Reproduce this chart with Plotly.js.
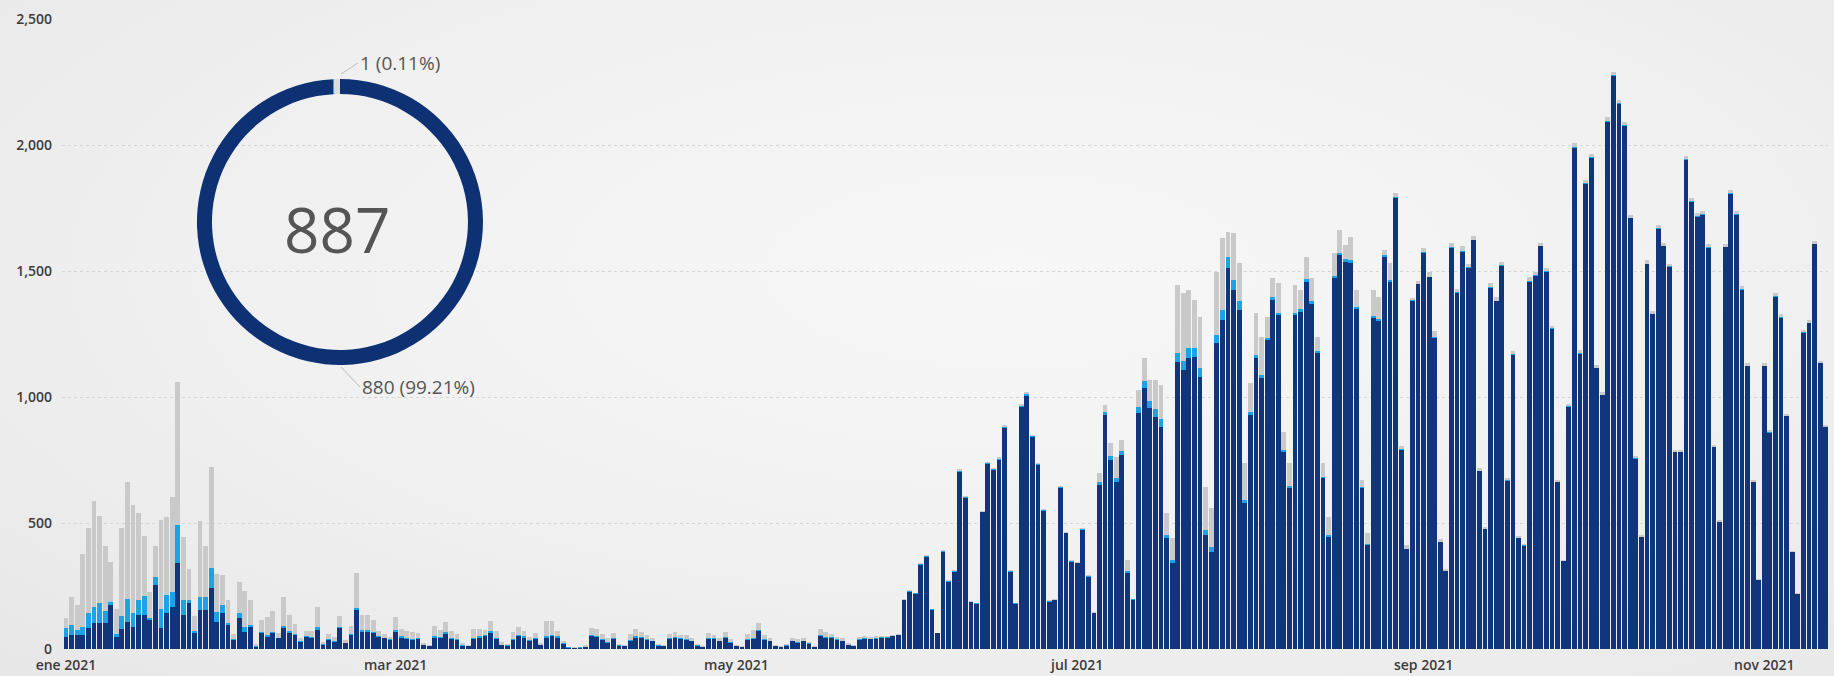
<!DOCTYPE html>
<html>
<head>
<meta charset="utf-8">
<script src="https://cdn.plot.ly/plotly-3.0.1.min.js"></script>
<style>
  html, body { margin: 0; padding: 0; }
  #chart { width: 1834px; height: 676px;
    background: radial-gradient(ellipse at 55% 40%, #f7f7f7 0%, #f0f0f0 55%, #e7e7e7 100%); }
</style>
</head>
<body>
<div id="chart"></div>
<script>
// ---- data (one value per day, starting 2021-01-01) ----
const startDate = '2021-01-01';

// dark navy series
const navy = [
  // ene
  49,56,55,56,82,102,102,102,175,49,80,108,88,135,135,115,254,82,141,168,340,135,181,62,155,155,241,108,141,95,36,
  // feb
  122,69,89,9,62,49,62,42,82,62,56,29,49,42,75,16,36,29,82,22,56,155,69,69,62,49,42,36,
  // mar
  69,45,40,35,40,15,10,45,42,60,40,35,12,10,40,45,50,65,40,15,12,35,50,45,30,40,15,45,50,45,20,
  // abr
  5,3,5,8,50,48,35,25,40,12,10,30,45,42,35,30,12,10,40,42,38,35,30,12,8,40,38,30,42,25,
  // may
  10,8,35,40,70,35,30,10,8,12,30,25,30,20,8,50,45,42,35,30,15,10,35,40,38,40,45,45,50,55,194,
  // jun
  228,218,333,366,155,62,386,267,307,704,598,185,179,542,734,710,750,876,307,179,959,1005,840,730,549,188,194,638,459,347,
  // jul
  340,472,287,142,651,929,750,664,770,300,194,935,1034,955,922,882,439,340,1140,1107,1153,1160,1081,452,386,1213,1306,1511,1425,1345,578,
  // ago
  929,1153,1074,1226,1385,1325,783,638,1325,1339,1458,1369,1173,677,446,1471,1563,1537,1533,1348,638,413,1312,1303,1557,1458,1788,790,395,1380,1447,
  // sep
  1572,1475,1236,423,308,1592,1414,1575,1511,1622,706,477,1433,1379,1521,667,1167,441,410,1457,1480,1598,1498,1270,662,348,961,1988,1171,1845,
  // oct
  1949,1115,1007,2093,2272,2162,2077,1709,754,445,1526,1328,1668,1598,1516,780,780,1940,1773,1714,1722,1591,801,503,1594,1807,1722,1426,1123,662,272,
  // nov
  1123,858,1398,1313,924,383,219,1254,1293,1606,1133,880
];

// light blue series
const lightBlue = [
  33,39,20,30,60,66,80,50,10,10,50,90,55,60,75,10,33,75,73,60,152,60,15,10,53,53,79,40,34,10,5,
  19,20,7,2,5,8,7,3,10,8,5,3,4,4,13,2,3,3,5,2,4,7,7,5,5,4,3,3,
  7,5,5,4,4,2,2,5,5,8,5,4,2,2,5,5,6,6,5,2,2,4,6,5,4,4,2,5,6,5,2,
  1,1,1,1,5,5,4,3,4,2,1,4,5,4,4,3,2,1,4,4,4,4,3,2,1,5,4,3,5,3,
  1,1,4,4,5,4,3,1,1,2,3,3,3,2,1,4,4,4,3,3,2,1,3,3,3,3,3,2,2,2,2,
  3,3,3,3,2,1,3,2,3,4,4,2,2,3,4,4,4,5,2,2,5,5,4,4,3,2,2,3,3,2,
  3,4,3,2,10,12,15,15,15,8,3,25,30,30,30,30,15,12,35,35,40,35,35,20,18,35,40,45,40,35,15,
  10,12,12,10,10,10,8,8,10,10,10,10,8,6,6,10,10,10,10,8,5,5,8,8,5,5,5,3,3,3,3,
  3,3,2,2,1,3,2,3,3,3,2,1,3,3,3,2,2,1,1,3,3,3,3,2,2,1,2,4,3,3,
  3,2,2,4,4,3,3,3,2,1,3,3,3,3,3,2,2,3,3,3,3,3,2,1,3,3,3,3,2,2,1,
  2,2,3,3,2,1,1,2,2,3,2,1
];

// light gray series
const gray = [
  40,113,100,290,340,420,345,255,160,100,350,465,430,345,240,100,120,355,310,375,569,250,120,60,300,200,404,150,120,90,20,
  126,140,100,10,50,70,80,20,116,65,40,10,20,25,80,8,20,15,45,10,30,138,60,60,50,20,15,10,
  50,30,25,30,20,8,5,40,30,40,25,20,10,5,35,30,20,40,25,10,5,30,30,20,15,20,8,60,55,20,10,
  3,2,3,5,30,25,20,15,20,5,5,25,30,20,15,10,5,5,15,20,15,15,10,5,3,20,15,12,20,10,
  5,3,20,30,30,15,10,5,3,5,10,10,10,5,3,25,20,15,10,10,5,3,10,10,8,8,5,5,5,4,4,
  3,3,4,4,2,1,4,3,4,6,5,2,2,4,6,6,6,7,3,2,8,9,7,6,5,3,3,5,4,4,
  4,4,3,2,36,27,51,84,44,45,3,68,89,82,115,136,84,87,269,269,232,190,203,172,154,249,284,100,184,150,144,
  115,167,153,83,76,116,71,91,109,76,89,92,58,54,73,89,90,56,93,69,28,41,105,87,21,67,15,12,15,10,12,
  15,20,25,10,8,18,12,20,15,12,10,8,15,15,12,10,12,6,6,15,15,12,12,10,8,6,10,15,12,12,
  12,10,10,15,15,12,12,10,8,6,15,12,12,12,10,8,8,15,12,12,12,12,8,6,12,12,12,10,10,8,5,
  10,8,12,12,8,5,4,10,10,12,8,6
];

// donut (latest day breakdown)
const donutLabels = ['navy', 'lightBlue', 'gray'];
const donutValues = [880, 1, 6];
const donutTotal = 887;

// axis ticks
const xTickVals = ['2021-01-01','2021-03-01','2021-05-01','2021-07-01','2021-09-01','2021-11-01'];
const xTickText = ['ene 2021','mar 2021','may 2021','jul 2021','sep 2021','nov 2021'];
const yTickVals = [0, 500, 1000, 1500, 2000, 2500];

// ---- build ----
const C_NAVY = '#11357a', C_BLUE = '#1ea2e6', C_GRAY = '#c9c9c9';
const dates = navy.map((_, i) => {
  const d = new Date(startDate + 'T00:00:00Z');
  d.setUTCDate(d.getUTCDate() + i);
  return d.toISOString().slice(0, 10);
});

const bar = (y, color) => ({
  type: 'bar', x: dates, y: y, marker: { color: color, line: { width: 0 } },
  hoverinfo: 'x+y', showlegend: false
});

const pctText = v => v + ' (' + (100 * v / donutTotal).toFixed(2) + '%)';

const traces = [
  bar(navy, C_NAVY),
  bar(lightBlue, C_BLUE),
  bar(gray, C_GRAY),
  {
    type: 'pie', labels: donutLabels, values: donutValues, hole: 0.895,
    sort: false, direction: 'clockwise', rotation: 0,
    marker: { colors: ['#0e3173', C_BLUE, '#dcdcdc'], line: { width: 0 } },
    textinfo: 'none', showlegend: false, hoverinfo: 'label+value',
    domain: { x: [0.0764, 0.2384], y: [0.4508, 0.9048] }
  }
];

const tickFont = { family: 'Open Sans, sans-serif', size: 14, color: '#3c3c3c', weight: 600 };
const labelFont = { family: 'Open Sans, sans-serif', size: 19, color: '#555555' };

const layout = {
  width: 1834, height: 676,
  margin: { l: 62, r: 6, t: 19, b: 27 },
  paper_bgcolor: 'rgba(0,0,0,0)', plot_bgcolor: 'rgba(0,0,0,0)',
  barmode: 'stack', bargap: 0.14,
  showlegend: false,
  xaxis: {
    type: 'date',
    range: ['2020-12-31 06:50', '2021-11-12 09:40'],
    tickvals: xTickVals, ticktext: xTickText,
    showgrid: false, zeroline: false, showline: false, ticks: '',
    tickfont: tickFont, ticklabelstandoff: 6
  },
  yaxis: {
    range: [0, 2500], tickvals: yTickVals, tickformat: ',',
    showgrid: true, gridcolor: '#d6d6d6', griddash: 'dot', gridwidth: 1,
    zeroline: false, showline: false, ticks: '',
    tickfont: tickFont, ticklabelstandoff: 9
  },
  annotations: [
    { xref: 'paper', yref: 'paper', x: 0.1557, y: 0.666, text: String(donutTotal),
      showarrow: false, xanchor: 'center', yanchor: 'middle',
      font: { family: 'Open Sans, sans-serif', size: 62, color: '#555555' } },
    { xref: 'paper', yref: 'paper', x: (341 - 62) / 1766, y: (649 - 74) / 630,
      text: pctText(donutValues[1]),
      showarrow: true, arrowhead: 0, arrowwidth: 1, arrowcolor: '#bdbdbd',
      ax: 17, ay: -11, xanchor: 'left', yanchor: 'middle', font: labelFont },
    { xref: 'paper', yref: 'paper', x: (341 - 62) / 1766, y: (649 - 367) / 630,
      text: pctText(donutValues[0]),
      showarrow: true, arrowhead: 0, arrowwidth: 1, arrowcolor: '#bdbdbd',
      ax: 19, ay: 20, xanchor: 'left', yanchor: 'middle', font: labelFont }
  ]
};

Plotly.newPlot('chart', traces, layout, { displayModeBar: false, staticPlot: true });
</script>
</body>
</html>
